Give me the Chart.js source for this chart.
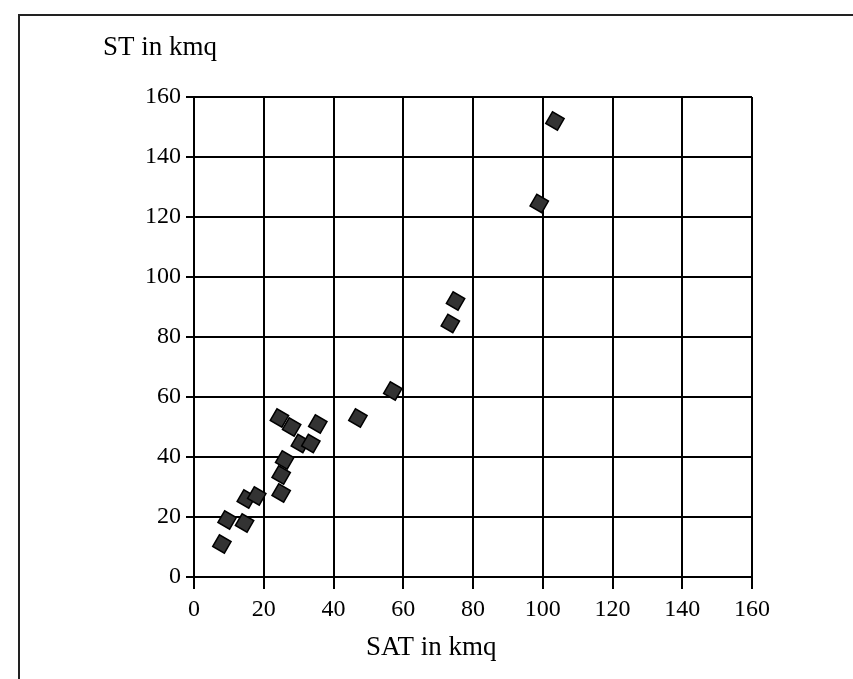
<!DOCTYPE html>
<html>
<head>
<meta charset="utf-8">
<script src="https://cdn.jsdelivr.net/npm/chart.js@4/dist/chart.umd.min.js"></script>
<style>
  html, body { margin: 0; padding: 0; background: #fff; }
  #wrap { position: relative; width: 853px; height: 679px; overflow: hidden; }
  #frame { position: absolute; left: 18px; top: 14px; right: -5px; bottom: -5px;
           border-top: 2px solid #222; border-left: 2px solid #222; }
  canvas { position: absolute; left: 0; top: 0; }
</style>
</head>
<body>
<div id="wrap">
  <div id="frame"></div>
  <canvas id="scatter" width="853" height="679"></canvas>
</div>
<script>
// SAT (x) and ST (y) areas, in kmq
const satValues = [8, 9.5, 14.5, 15, 18, 25, 25, 26, 24.5, 28, 30.5, 33.5, 35.5, 47, 57, 73.5, 75, 99, 103.5];
const stValues  = [11, 19, 18, 26, 27, 28, 34, 39, 53, 50, 44.5, 44.5, 51, 53, 62, 84.5, 92, 124.5, 152];
const tickValues = [0, 20, 40, 60, 80, 100, 120, 140, 160];
const xTitle = 'SAT in kmq';
const yTitle = 'ST in kmq';

const points = [];
for (let i = 0; i < satValues.length; i++) {
  points.push({ x: satValues[i], y: stValues[i] });
}

const serif = "'Liberation Serif', 'DejaVu Serif', serif";

// axis titles sit where the original put them, not centered
const titlePlugin = {
  id: 'titles',
  afterDraw(chart) {
    const ctx = chart.ctx;
    const xs = chart.scales.x;
    ctx.save();
    ctx.fillStyle = '#000';
    ctx.font = '27px ' + serif;
    ctx.textBaseline = 'alphabetic';
    ctx.textAlign = 'left';
    ctx.fillText(yTitle, 103, 55);
    ctx.textAlign = 'center';
    ctx.fillText(xTitle, xs.getPixelForValue(68), 655);
    ctx.restore();
  }
};

const axisOpts = (tickLen, pad) => ({
  type: 'linear',
  min: 0,
  max: 160,
  afterBuildTicks(scale) {
    scale.ticks = tickValues.map(v => ({ value: v }));
  },
  grid: { color: '#000', lineWidth: 2, tickLength: tickLen, drawTicks: true },
  border: { color: '#000', width: 2 },
  ticks: { color: '#000', font: { family: serif, size: 24 }, padding: pad }
});

const xAxis = axisOpts(12, 6);
xAxis.afterFit = s => { s.height = 102; };
const yAxis = axisOpts(8, 5);
yAxis.afterFit = s => { s.width = 194; };

new Chart(document.getElementById('scatter'), {
  type: 'scatter',
  data: {
    datasets: [{
      data: points,
      pointStyle: 'rectRot',
      rotation: -15,
      pointRadius: 9.5,
      pointHoverRadius: 9.5,
      backgroundColor: '#333',
      borderColor: '#000',
      borderWidth: 1.5
    }]
  },
  options: {
    responsive: false,
    animation: false,
    layout: { padding: { top: 97, right: 101, left: 0, bottom: 0 } },
    plugins: { legend: { display: false }, tooltip: { enabled: false } },
    scales: { x: xAxis, y: yAxis }
  },
  plugins: [titlePlugin]
});
</script>
</body>
</html>
